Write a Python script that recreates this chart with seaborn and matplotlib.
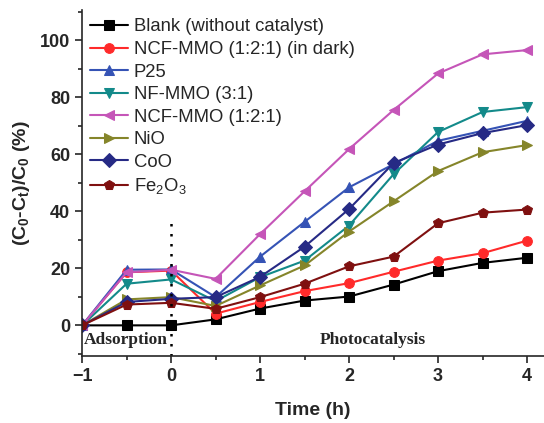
import matplotlib
matplotlib.use("Agg")
import matplotlib.pyplot as plt
from matplotlib.ticker import MultipleLocator
import seaborn as sns
import pandas as pd

time_h = [-1, -0.5, 0, 0.5, 1, 1.5, 2, 2.5, 3, 3.5, 4]
blank = [0, 0, 0, 2.1, 5.9, 8.7, 10.1, 14.3, 19.0, 21.9, 23.7]
ncf_dark = [0, 18.6, 19.2, 4.1, 8.2, 12.0, 14.8, 18.8, 22.7, 25.3, 29.7]
p25 = [0, 19.5, 19.6, 9.9, 24.1, 36.3, 48.4, 56.5, 64.7, 68.2, 71.7]
nf_mmo = [0, 14.6, 16.1, 8.5, 16.9, 22.7, 35.0, 53.0, 67.8, 74.8, 76.5]
ncf_mmo = [0, 18.6, 19.5, 16.3, 32.0, 47.0, 61.8, 75.5, 88.3, 95.0, 96.5]
nio = [0, 9.1, 9.9, 6.8, 14.0, 21.0, 32.9, 43.5, 54.1, 60.7, 63.2]
coo = [0, 8.2, 9.3, 9.9, 17.0, 27.6, 40.8, 56.9, 63.4, 67.4, 70.2]
fe2o3 = [0, 7.3, 7.9, 5.8, 9.9, 14.6, 20.7, 24.1, 35.8, 39.5, 40.6]

labels = ["Blank (without catalyst)", "NCF-MMO (1:2:1) (in dark)", "P25",
          "NF-MMO (3:1)", "NCF-MMO (1:2:1)", "NiO", "CoO", "Fe$_2$O$_3$"]
series = [blank, ncf_dark, p25, nf_mmo, ncf_mmo, nio, coo, fe2o3]
colors = ["#000000", "#FF2A2A", "#3553B5", "#138A8A", "#C555B8", "#85852A", "#262A85", "#7F1010"]
markers = ["s", "o", "^", "v", "<", ">", "D", "p"]

sns.set_style("ticks")
plt.rcParams['font.family'] = ['Liberation Sans', 'DejaVu Sans']
plt.rcParams['mathtext.default'] = 'regular'

fig = plt.figure(figsize=(5.44, 4.23), dpi=100)
ax = fig.add_axes([0.151, 0.158, 0.849, 0.818])

for lab, vals, col, mk in zip(labels, series, colors, markers):
    df = pd.DataFrame({"t": time_h, "v": vals})
    sns.lineplot(data=df, x="t", y="v", ax=ax, color=col, marker=mk,
                 markersize=7, markeredgecolor=col, linewidth=1.5, label=lab)

ax.plot([0, 0], [-10.8, 36.5], linestyle=(0, (1, 3)), color="black", linewidth=1.8)

ax.set_xlim(-1, 4.19)
ax.set_ylim(-10.8, 110.5)
ax.xaxis.set_major_locator(MultipleLocator(1))
ax.xaxis.set_minor_locator(MultipleLocator(0.5))
ax.yaxis.set_major_locator(MultipleLocator(20))
ax.yaxis.set_minor_locator(MultipleLocator(10))
ax.tick_params(which="major", direction="out", length=5, width=1.2, labelsize=13)
ax.tick_params(which="minor", direction="out", length=3, width=1.2)
for t in ax.get_xticklabels() + ax.get_yticklabels():
    t.set_fontweight("bold")
sns.despine(ax=ax)
for s in ["left", "bottom"]:
    ax.spines[s].set_linewidth(1.2)

ax.set_xlabel("Time (h)", fontsize=14, fontweight="bold", labelpad=12)
ax.set_ylabel("(C$_0$-C$_t$)/C$_0$ (%)", fontsize=14, fontweight="bold", labelpad=6)

ax.text(-0.98, -5.0, "Adsorption", family="Liberation Serif", fontweight="bold",
        fontsize=12.5, ha="left", va="center")
ax.text(2.27, -5.0, "Photocatalysis", family="Liberation Serif", fontweight="bold",
        fontsize=12.5, ha="center", va="center")

leg = ax.legend(loc="upper left", bbox_to_anchor=(0.0, 1.0), frameon=False,
                fontsize=13.3, handlelength=2.05, handletextpad=0.3,
                labelspacing=0.3, borderaxespad=0.0, borderpad=0.45)

fig.savefig("out.png", dpi=100)
